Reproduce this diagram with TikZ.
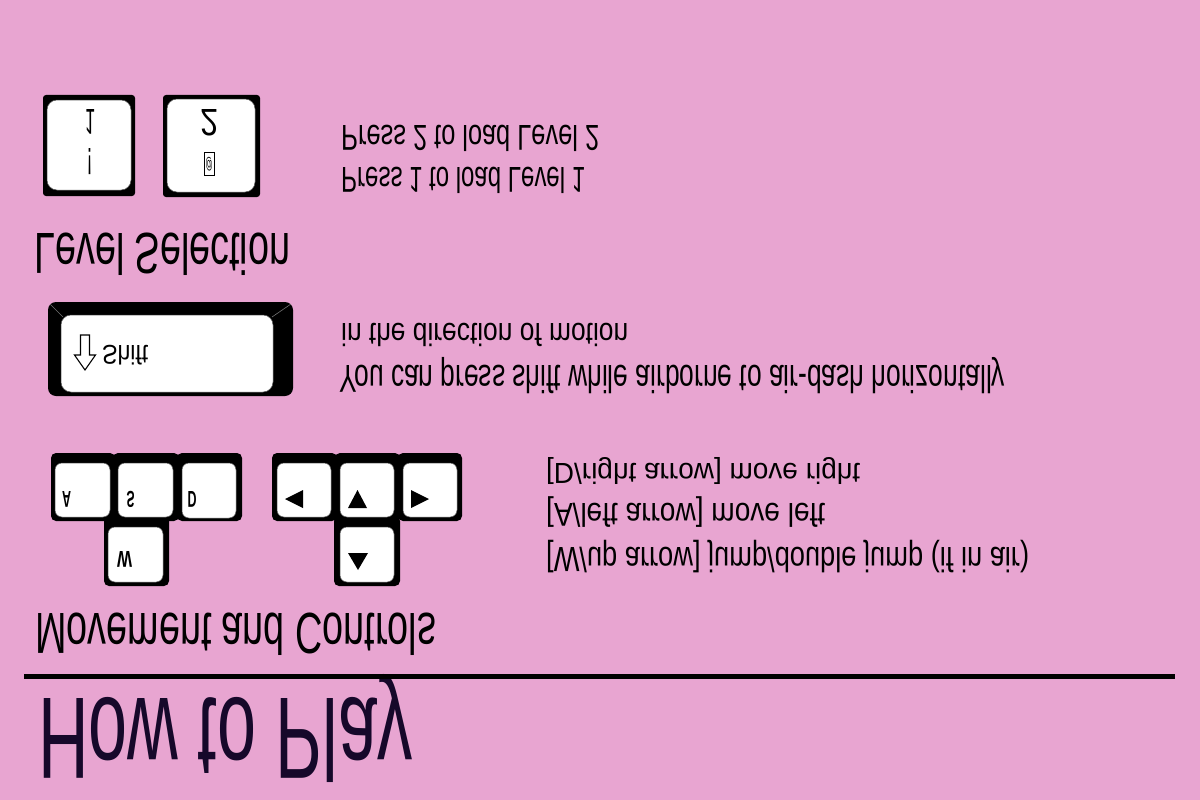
\documentclass[tikz,border=0pt]{standalone}
\usepackage{fontspec}
\setmainfont{Liberation Sans}
\definecolor{bgpink}{RGB}{232,165,209}
\definecolor{titlec}{RGB}{22,8,42}
\definecolor{facegray}{RGB}{90,90,90}
% flipped (upside-down) text squeezed to a given width in pt
\newcommand{\flipfit}[2]{\scalebox{1}[-1]{\resizebox{#1pt}{\height}{#2}}}
\begin{document}
\begin{tikzpicture}[x=1pt,y=-1pt,
  txt/.style={inner sep=0pt, anchor=base west, text=black},
  lbl/.style={inner sep=0pt, anchor=base, text=black},
  keybody/.style={fill=black, rounded corners=5pt},
  keyface/.style={fill=white, draw=facegray, line width=0.5pt, rounded corners=7pt},
  tri/.style={fill=black},
  bevel/.style={draw=black!55, line width=0.6pt}]
\useasboundingbox (0,0) rectangle (1200,800);
\fill[bgpink] (0,0) rectangle (1200,800);

% ---------- title and rule ----------
\node[txt, text=titlec, font=\fontsize{116}{120}\selectfont] (title) at (38,698) {\flipfit{374}{How to Play}};
\coordinate (ruleL) at (24,676.5);
\coordinate (ruleR) at (1175,676.5);
\draw[line width=5pt] (ruleL) -- (ruleR);

% ---------- section headings ----------
\node[txt, font=\fontsize{58}{60}\selectfont] (movhead) at (35,613) {\flipfit{401}{Movement and Controls}};
\node[txt, font=\fontsize{58}{60}\selectfont] (levhead) at (34,233) {\flipfit{256}{Level Selection}};

% ---------- level selection keys ----------
\path[keybody, rounded corners=3pt] (43,95) rectangle (135,196);
\path[keyface, rounded corners=10pt] (47,100) rectangle (131,190);
\node[lbl, font=\fontsize{36}{38}\selectfont] (k1a) at (90,110) {\flipfit{10}{1}};
\node[lbl, font=\fontsize{38}{40}\selectfont] (k1b) at (90,148) {\flipfit{5}{!}};

\path[keybody, rounded corners=3pt] (163,95) rectangle (260,197);
\path[keyface, rounded corners=10pt] (167,99) rectangle (255,192);
\node[lbl, font=\fontsize{38}{40}\selectfont] (k2a) at (209,110) {\flipfit{18}{2}};
\node[draw=black, line width=0.6pt, minimum width=10pt, minimum height=23pt, inner sep=0pt,
      font=\fontsize{16}{18}\selectfont] (k2b) at (209,164) {\flipfit{7}{@}};

\node[txt, font=\fontsize{36}{38}\selectfont] (press2) at (341,125) {\flipfit{258}{Press 2 to load Level 2}};
\node[txt, font=\fontsize{36}{38}\selectfont] (press1) at (341,167) {\flipfit{244}{Press 1 to load Level 1}};

% ---------- shift key ----------
\path[keybody, rounded corners=8pt] (48,302) rectangle (293,396);
\path[keyface, rounded corners=10pt] (61,315) rectangle (273,392);
\draw[bevel] (50,304) -- (63,317);
\draw[bevel] (291,304) -- (272,317);
\draw[line width=1.1pt, fill=white, line join=miter]
  (80.5,335) -- (89.5,335) -- (89.5,355) -- (95.5,355) -- (85,370) -- (74.5,355) -- (80.5,355) -- cycle;
\node[txt, font=\fontsize{27}{29}\selectfont] (shiftlbl) at (102,345) {\flipfit{46}{Shift}};

\node[txt, font=\fontsize{32}{34}\selectfont] (shift2) at (341,323) {\flipfit{287}{in the direction of motion}};
\node[txt, font=\fontsize{39}{41}\selectfont] (shift1) at (339,365) {\flipfit{666}{You can press shift while airborne to air-dash horizontally}};

% ---------- WASD keys ----------
\path[keybody] (51,453) rectangle (115,521);
\path[keybody] (113,453) rectangle (179,521);
\path[keybody] (177,453) rectangle (242,521);
\path[keybody] (104,516) rectangle (169,586);
\path[keyface] (55,463) rectangle (110,517);
\path[keyface] (118,463) rectangle (173,517);
\path[keyface] (182,463) rectangle (236,518);
\path[keyface] (108,527) rectangle (163,582);
\node[lbl, font=\bfseries\fontsize{23}{25}\selectfont] (ka) at (66.5,491) {\flipfit{9}{A}};
\node[lbl, font=\bfseries\fontsize{23}{25}\selectfont] (ks) at (130.5,491) {\flipfit{8}{S}};
\node[lbl, font=\bfseries\fontsize{23}{25}\selectfont] (kd) at (192,491) {\flipfit{9}{D}};
\node[lbl, font=\bfseries\fontsize{23}{25}\selectfont] (kw) at (124.5,551) {\flipfit{15}{W}};

% ---------- arrow keys ----------
\path[keybody] (272,453) rectangle (337,521);
\path[keybody] (335,453) rectangle (400,521);
\path[keybody] (398,453) rectangle (462,521);
\path[keybody] (334,516) rectangle (400,586);
\path[keyface] (277,463) rectangle (331,517);
\path[keyface] (340,463) rectangle (394,517);
\path[keyface] (403,463) rectangle (457,517);
\path[keyface] (340,527) rectangle (394,582);
\fill[tri] (285,499) -- (303,490) -- (303,508) -- cycle;
\fill[tri] (357.5,490) -- (367,508) -- (348,508) -- cycle;
\fill[tri] (429,499) -- (411,490) -- (411,508) -- cycle;
\fill[tri] (358,570) -- (348,553) -- (368,553) -- cycle;

\node[txt, font=\fontsize{29}{31}\selectfont] (ctl3) at (546,463) {\flipfit{314}{[D/right arrow] move right}};
\node[txt, font=\fontsize{33}{35}\selectfont] (ctl2) at (546,503) {\flipfit{279}{[A/left arrow] move left}};
\node[txt, font=\fontsize{35}{37}\selectfont] (ctl1) at (546,547) {\flipfit{483}{[W/up arrow] jump/double jump (if in air)}};
\end{tikzpicture}
\end{document}
